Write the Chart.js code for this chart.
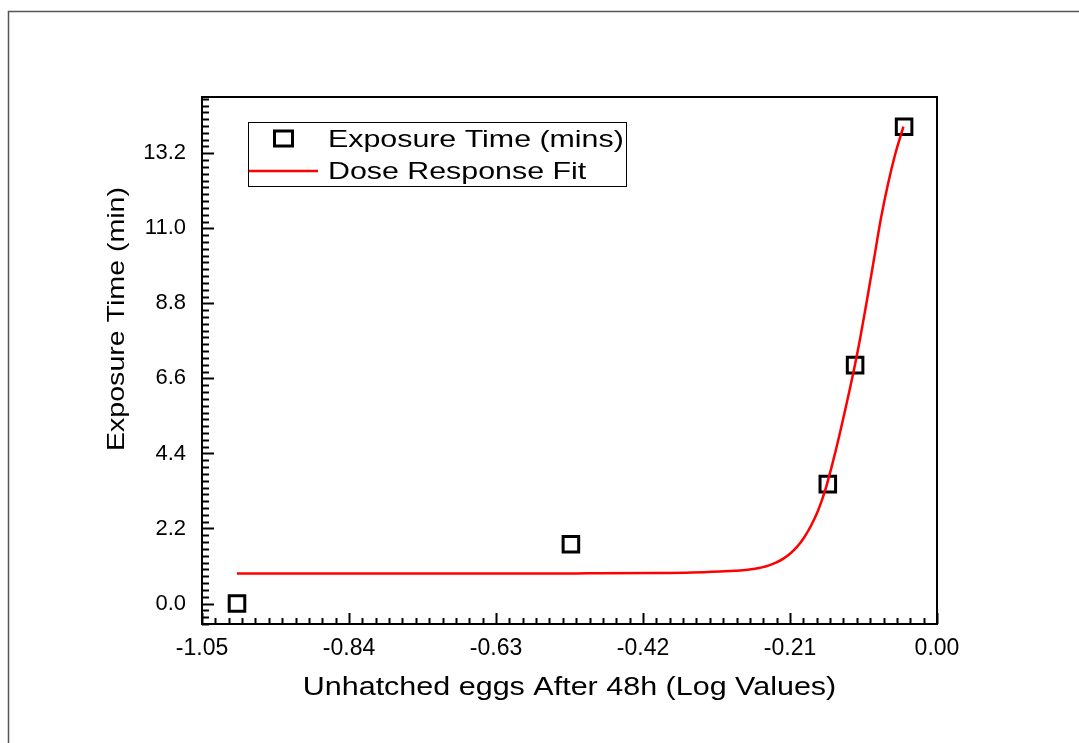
<!DOCTYPE html>
<html>
<head>
<meta charset="utf-8">
<script src="https://cdn.jsdelivr.net/npm/chart.js@4/dist/chart.umd.min.js"></script>
<style>
html,body{margin:0;padding:0;background:#fff;}
#wrap{position:relative;width:1079px;height:743px;}
</style>
</head>
<body>
<div id="wrap"><canvas id="c" width="1079" height="743"></canvas></div>
<script>
// ---- Data ----
const seriesLabel = 'Exposure Time (mins)';
const fitLabel = 'Dose Response Fit';
const xTitle = 'Unhatched eggs After 48h (Log Values)';
const yTitle = 'Exposure Time (min)';

const pointX = [-1.0, -0.523, -0.156, -0.117, -0.047];
const pointY = [0.0, 1.74, 3.50, 6.99, 13.98];

const fitX = [-1.0, -0.8, -0.6, -0.5, -0.4, -0.35, -0.31, -0.29, -0.27, -0.26, -0.25, -0.24, -0.23, -0.22, -0.21, -0.20, -0.19, -0.18, -0.17, -0.16, -0.15, -0.14, -0.13, -0.12, -0.11, -0.10, -0.09, -0.08, -0.07, -0.06, -0.048];
const fitY = [0.88, 0.88, 0.88, 0.885, 0.895, 0.91, 0.94, 0.96, 0.99, 1.02, 1.06, 1.12, 1.20, 1.31, 1.46, 1.66, 1.93, 2.28, 2.72, 3.30, 4.05, 4.88, 5.78, 6.72, 7.75, 8.90, 10.10, 11.30, 12.30, 13.15, 13.98];

const xTickLabels = ['-1.05', '-0.84', '-0.63', '-0.42', '-0.21', '0.00'];
const yTickLabels = ['0.0', '2.2', '4.4', '6.6', '8.8', '11.0', '13.2'];

const X_MIN = -1.05, X_MAX = 0.0;
const Y_MIN = -0.6, Y_MAX = 14.85;
const X_MINOR_PER_MAJOR = 11;   // intervals between major ticks
const Y_MINOR_STEP = 0.2;

const FONT = '"Liberation Sans", Arial, sans-serif';

const pointsData = pointX.map((x, i) => ({x: x, y: pointY[i]}));
const fitData = fitX.map((x, i) => ({x: x, y: fitY[i]}));

// ---- Plugins ----
const decorPlugin = {
  id: 'decor',
  beforeDraw(chart) {
    const ctx = chart.ctx;
    ctx.save();
    ctx.fillStyle = '#fff';
    ctx.fillRect(0, 0, chart.width, chart.height);
    ctx.strokeStyle = '#555';
    ctx.lineWidth = 1.5;
    ctx.beginPath();
    ctx.moveTo(8.5, chart.height);
    ctx.lineTo(8.5, 11.5);
    ctx.lineTo(chart.width, 11.5);
    ctx.stroke();
    ctx.restore();
  },
  afterDraw(chart) {
    const ctx = chart.ctx;
    const a = chart.chartArea;
    const xs = chart.scales.x, ys = chart.scales.y;
    ctx.save();
    ctx.strokeStyle = '#000';
    ctx.lineWidth = 2;
    ctx.strokeRect(a.left, a.top, a.right - a.left, a.bottom - a.top);
    ctx.beginPath();
    const xMajorStep = Number(xTickLabels[1]) - Number(xTickLabels[0]);
    const xMinorStep = xMajorStep / X_MINOR_PER_MAJOR;
    const nx = Math.round((X_MAX - X_MIN) / xMinorStep);
    for (let k = 0; k <= nx; k++) {
      const v = X_MIN + k * xMinorStep;
      const px = Math.round(xs.getPixelForValue(v)) + 0.5;
      const len = (k % X_MINOR_PER_MAJOR === 0) ? 11 : 6;
      ctx.moveTo(px, a.bottom);
      ctx.lineTo(px, a.bottom - len);
    }
    const yMajor = yTickLabels.map(Number);
    const kMin = Math.ceil(Y_MIN / Y_MINOR_STEP - 1e-9);
    const kMax = Math.floor(Y_MAX / Y_MINOR_STEP + 1e-9);
    for (let k = kMin; k <= kMax; k++) {
      const v = k * Y_MINOR_STEP;
      const isMajor = yMajor.some(m => Math.abs(m - v) < 1e-6);
      const py = Math.round(ys.getPixelForValue(v)) + 0.5;
      const len = isMajor ? 12 : 7;
      ctx.moveTo(a.left, py);
      ctx.lineTo(a.left + len, py);
    }
    ctx.stroke();

    ctx.fillStyle = '#000';
    ctx.textBaseline = 'alphabetic';
    ctx.textAlign = 'center';
    ctx.font = '25px ' + FONT;
    ctx.save();
    ctx.translate((a.left + a.right) / 2, 695);
    ctx.scale(1.22, 1);
    ctx.fillText(xTitle, 0, 0);
    ctx.restore();

    ctx.save();
    ctx.font = '24px ' + FONT;
    ctx.translate(124, 319);
    ctx.rotate(-Math.PI / 2);
    ctx.scale(1.19, 1);
    ctx.fillText(yTitle, 0, 0);
    ctx.restore();

    // legend
    const lx = 248.5, ly = 122.5, lw = 378, lh = 64;
    ctx.fillStyle = '#fff';
    ctx.fillRect(lx, ly, lw, lh);
    ctx.strokeStyle = '#000';
    ctx.lineWidth = 1;
    ctx.strokeRect(lx, ly, lw, lh);
    const ds0 = chart.data.datasets[1];
    const ds1 = chart.data.datasets[0];
    ctx.lineWidth = 3;
    ctx.strokeStyle = ds0.pointBorderColor;
    ctx.strokeRect(274.5, 131, 18, 15);
    ctx.strokeStyle = ds1.borderColor;
    ctx.lineWidth = 2.5;
    ctx.beginPath();
    ctx.moveTo(249, 171);
    ctx.lineTo(318, 171);
    ctx.stroke();
    ctx.fillStyle = '#000';
    ctx.textAlign = 'left';
    ctx.font = '24px ' + FONT;
    ctx.save();
    ctx.translate(328, 147);
    ctx.scale(1.265, 1);
    ctx.fillText(ds0.label, 0, 0);
    ctx.restore();
    ctx.save();
    ctx.translate(328, 179);
    ctx.scale(1.265, 1);
    ctx.fillText(ds1.label, 0, 0);
    ctx.restore();
    ctx.restore();
  }
};

new Chart(document.getElementById('c'), {
  type: 'scatter',
  data: {
    datasets: [
      {
        label: fitLabel,
        data: fitData,
        showLine: true,
        borderColor: '#ff0000',
        borderWidth: 2.5,
        pointRadius: 0,
        pointHoverRadius: 0,
        cubicInterpolationMode: 'monotone',
        fill: false,
        order: 0
      },
      {
        label: seriesLabel,
        data: pointsData,
        showLine: false,
        pointStyle: 'rect',
        pointRadius: 11,
        pointBorderWidth: 3,
        pointBorderColor: '#000',
        pointBackgroundColor: 'rgba(0,0,0,0)',
        borderColor: '#000',
        backgroundColor: 'rgba(0,0,0,0)',
        order: 1
      }
    ]
  },
  options: {
    responsive: false,
    animation: false,
    devicePixelRatio: 1,
    layout: {padding: {top: 97, right: 142, left: 0, bottom: 0}},
    plugins: {legend: {display: false}, tooltip: {enabled: false}, title: {display: false}},
    scales: {
      x: {
        type: 'linear',
        position: 'bottom',
        min: X_MIN,
        max: X_MAX,
        afterBuildTicks: s => { s.ticks = xTickLabels.map(v => ({value: Number(v)})); },
        afterFit: s => { s.height = 119; },
        ticks: {
          autoSkip: false,
          maxRotation: 0,
          padding: 3,
          color: '#000',
          font: {family: FONT, size: 23},
          callback: (v, i) => xTickLabels[i]
        },
        grid: {display: false},
        border: {display: true, color: '#000', width: 2}
      },
      y: {
        type: 'linear',
        position: 'left',
        min: Y_MIN,
        max: Y_MAX,
        afterBuildTicks: s => { s.ticks = yTickLabels.map(v => ({value: Number(v)})); },
        afterFit: s => { s.width = 202; },
        ticks: {
          autoSkip: false,
          padding: 8,
          color: '#000',
          font: {family: FONT, size: 22},
          callback: (v, i) => yTickLabels[i]
        },
        grid: {display: false},
        border: {display: true, color: '#000', width: 2}
      }
    }
  },
  plugins: [decorPlugin]
});
</script>
</body>
</html>
